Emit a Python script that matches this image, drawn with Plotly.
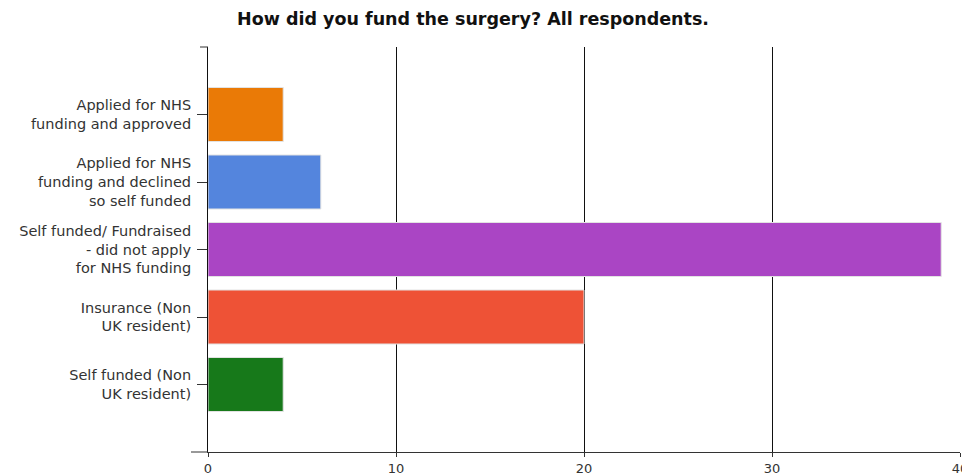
import plotly.graph_objects as go

categories = [
    "Applied for NHS<br>funding and approved",
    "Applied for NHS<br>funding and declined<br>so self funded",
    "Self funded/ Fundraised<br>- did not apply<br>for NHS funding",
    "Insurance (Non<br>UK resident)",
    "Self funded (Non<br>UK resident)",
]
values = [4, 6, 39, 20, 4]
bar_colors = ["#EA7A06", "#5485DD", "#AA45C4", "#EE5236", "#17791A"]
x_ticks = [0, 10, 20, 30, 40]
title_text = "How did you fund the surgery? All respondents."

positions = list(range(len(categories)))

# page body has a default 8px margin; offsets below compensate for it
fig = go.Figure()
fig.add_trace(go.Bar(
    x=values,
    y=positions,
    orientation="h",
    width=0.8,
    marker=dict(color=bar_colors, line=dict(color="#E2E2E2", width=1)),
    hoverinfo="x+y",
))

fig.update_layout(
    width=970,
    height=474,
    paper_bgcolor="white",
    plot_bgcolor="white",
    showlegend=False,
    margin=dict(l=200, r=18, t=39, b=30),
    title=dict(
        text=title_text,
        x=465 / 970,
        xanchor="center",
        y=1 - 11 / 474,
        yref="container",
        yanchor="middle",
        font=dict(family="DejaVu Sans", size=17.5, color="#111111", weight="bold"),
    ),
    font=dict(family="DejaVu Sans", size=13, color="#333333"),
    xaxis=dict(
        range=[0, 40],
        tickvals=x_ticks,
        ticktext=[str(v) for v in x_ticks],
        showgrid=True,
        gridcolor="#111111",
        gridwidth=1,
        zeroline=False,
        showline=True,
        linecolor="#333333",
        linewidth=1,
        ticks="outside",
        ticklen=4,
        tickcolor="#333333",
        automargin=False,
        tickfont=dict(size=13, color="#333333"),
    ),
    yaxis=dict(
        range=[5, -1],
        tickvals=positions,
        ticktext=categories,
        showgrid=False,
        zeroline=False,
        showline=True,
        linecolor="#111111",
        linewidth=1,
        ticks="outside",
        ticklen=10,
        tickcolor="#333333",
        ticklabelstandoff=3,
        automargin=False,
        tickfont=dict(size=14.5, color="#333333"),
    ),
    shapes=[
        dict(type="line", xref="paper", yref="paper", x0=-8 / 752, x1=0, y0=1, y1=1,
             line=dict(color="#333333", width=1)),
        dict(type="line", xref="paper", yref="paper", x0=-17 / 752, x1=0, y0=0, y1=0,
             line=dict(color="#333333", width=1)),
    ],
)

fig.write_html("out.html")
